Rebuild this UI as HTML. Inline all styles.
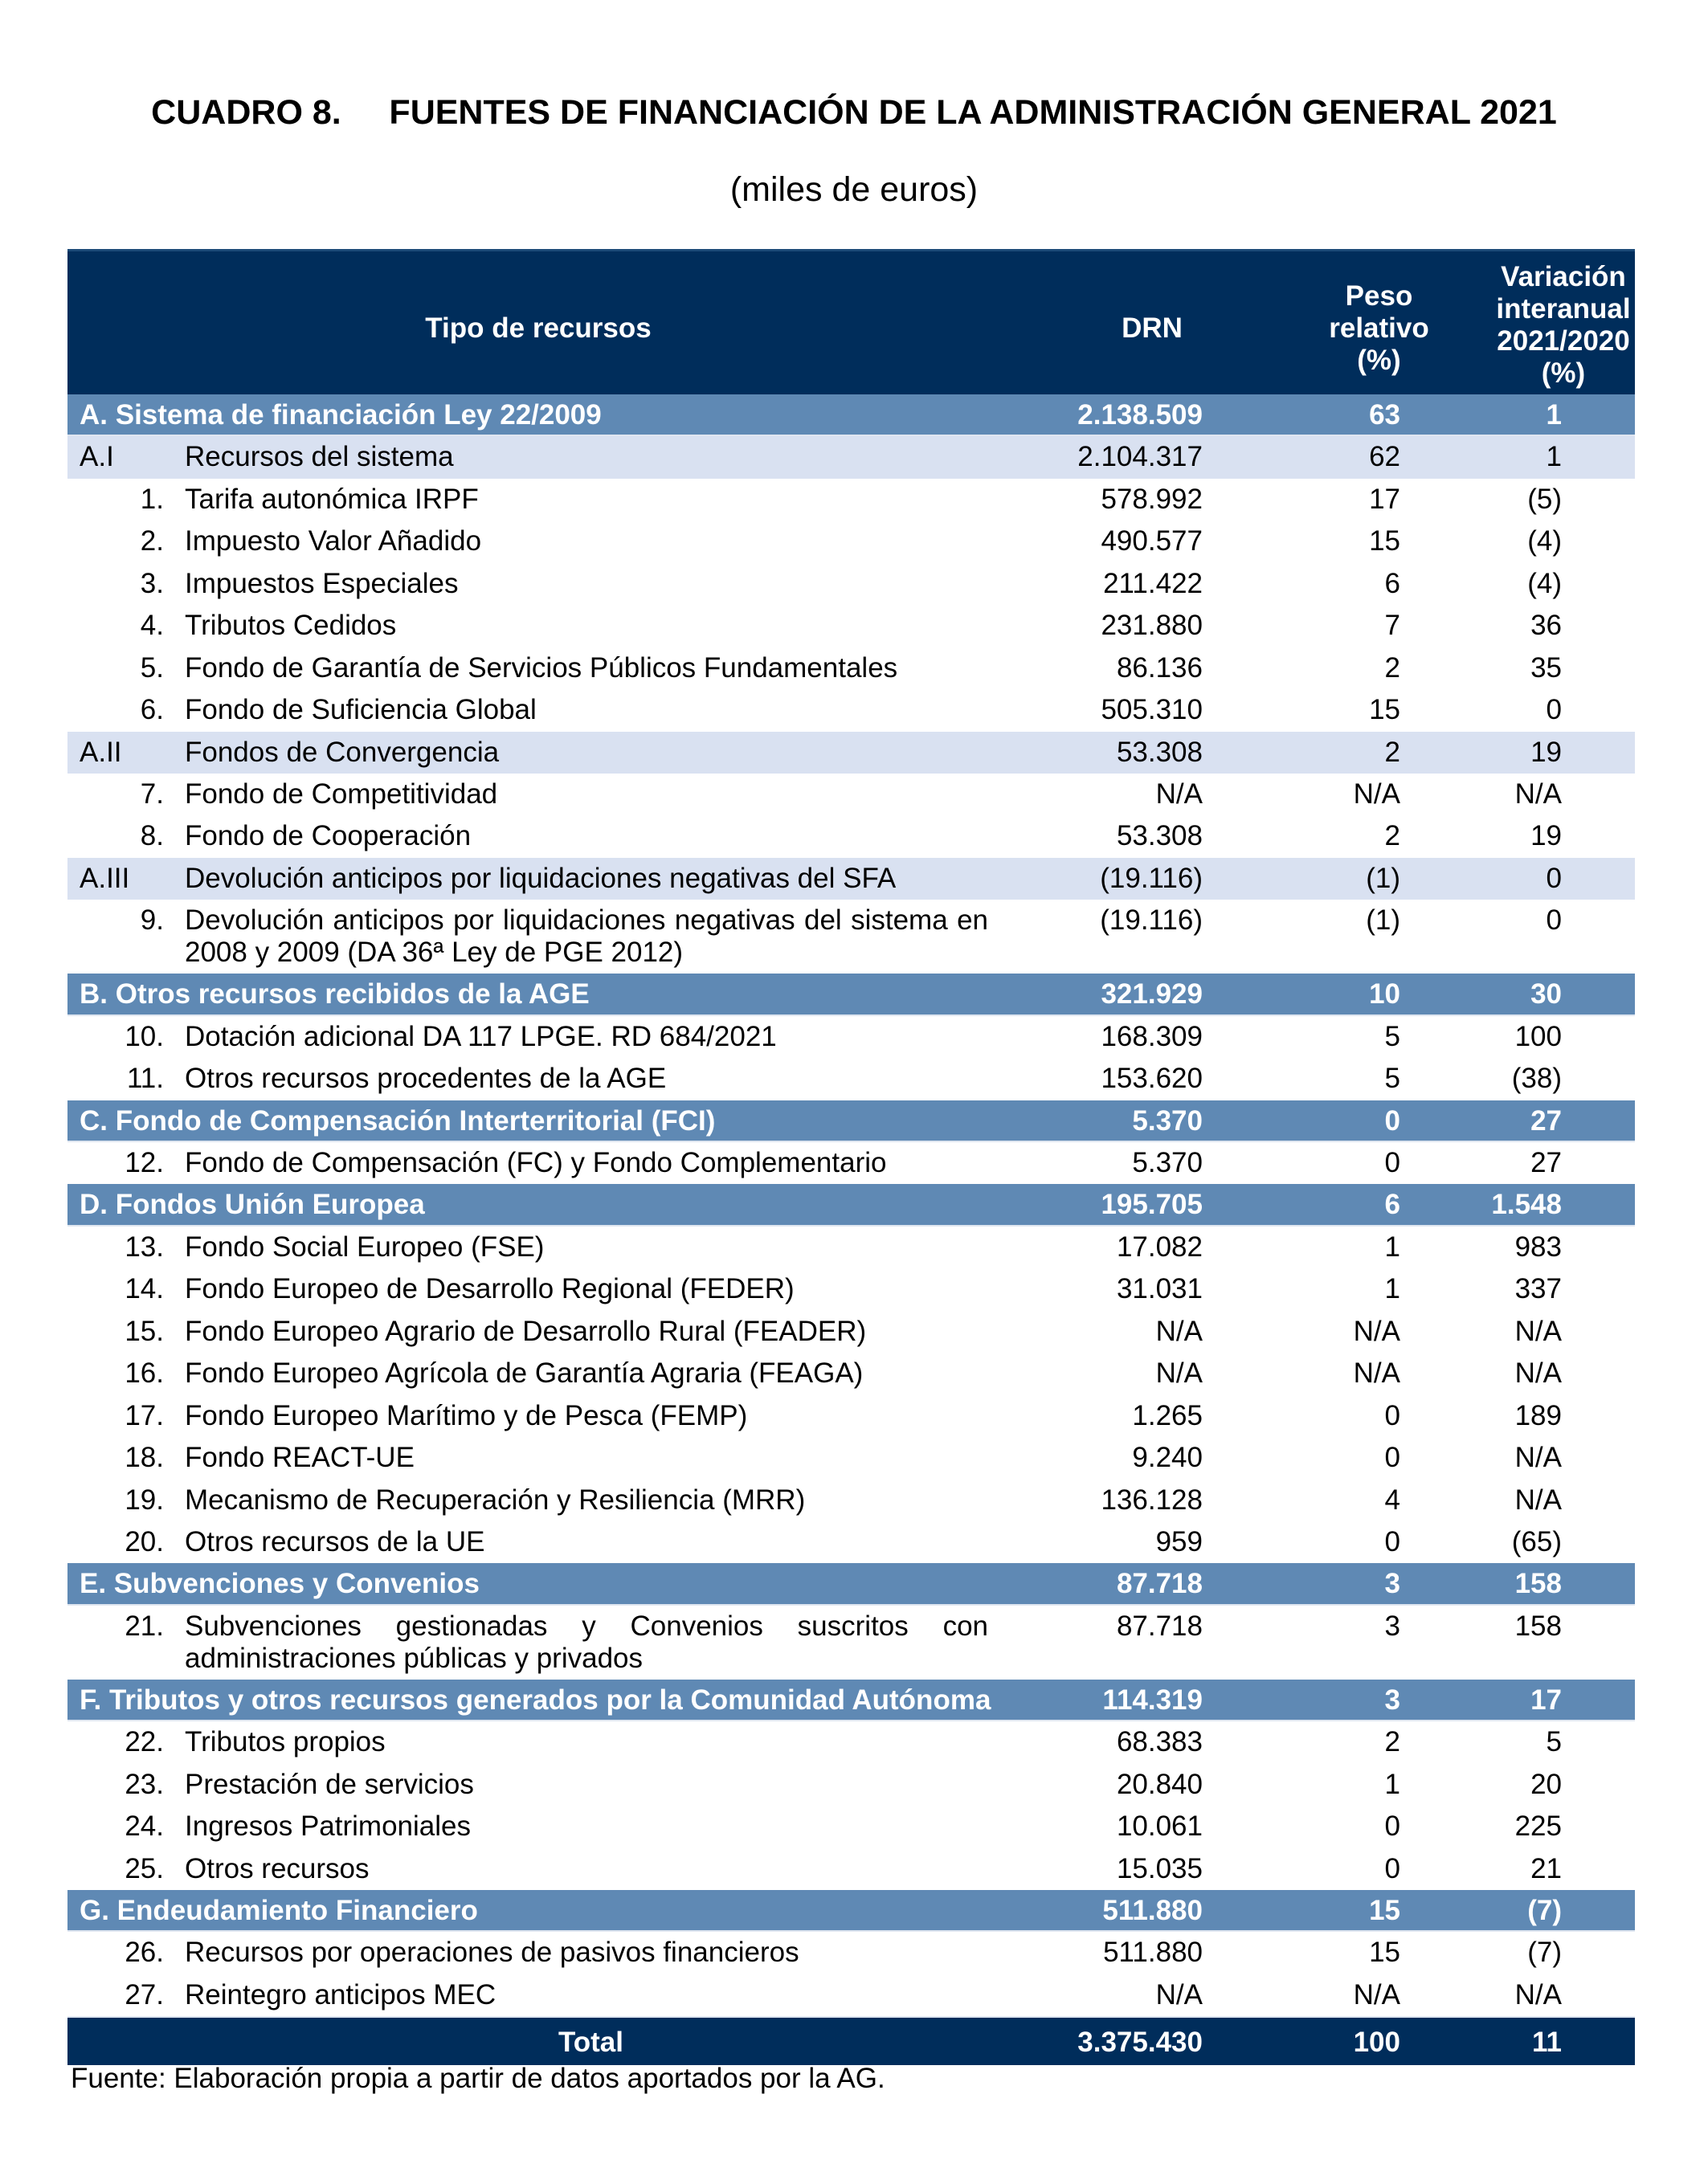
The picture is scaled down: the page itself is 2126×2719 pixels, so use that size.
<!DOCTYPE html>
<html><head><meta charset="utf-8">
<style>
*{margin:0;padding:0;box-sizing:border-box}
body{width:2126px;height:2719px;background:#fff;font-family:"Liberation Sans",Arial,sans-serif;color:#000;position:relative;overflow:hidden}
#title{position:absolute;top:116px;left:0;width:2126px;text-align:center;font-weight:bold;font-size:43px;white-space:pre}
#sub{position:absolute;top:212px;left:0;width:2126px;text-align:center;font-size:43px}
#tbl{position:absolute;top:310px;left:84px;width:1951px}
.hdr{height:181px;background:#002d5b;color:#fff;font-weight:bold;font-size:35px;position:relative;border-top:3px solid #1c4a78}
.hdr div{position:absolute;text-align:center;line-height:40px}
.row{height:52.45px;position:relative;font-size:35px;line-height:52px}
.row.dbl{height:92px;line-height:40px}
.row.dbl .lbl{top:6px;text-align:justify;text-align-last:left}
.row.dbl .c{top:6px}
.row div{position:absolute;top:0;white-space:nowrap}
.sec{background:#5f89b4;color:#fff;font-weight:bold;border-bottom:2px solid #dfe6f0}
.sub{background:#d9e1f1}
.num{left:0;width:120px;text-align:right}
.lbl{left:146px}
.row.dbl .lbl{width:1000px;white-space:normal}
.slbl{left:15px}
.drn{left:1172px;width:241px;text-align:right}
.peso{left:1479px;width:180px;text-align:right}
.var{left:1772px;width:88px;text-align:right}
.tot{height:61px;background:#002d5b;color:#fff;font-weight:bold;font-size:35px;line-height:61px;position:relative;border-top:2px solid #dfe6f0}
.tot div{position:absolute;top:0}
#foot{position:absolute;top:2566px;left:88px;font-size:35px;line-height:44px}
</style></head>
<body>
<div id="title">CUADRO 8.     FUENTES DE FINANCIACIÓN DE LA ADMINISTRACIÓN GENERAL 2021</div>
<div id="sub">(miles de euros)</div>
<div id="tbl">
<div class="hdr">
 <div style="left:0;width:1172px;top:76px">Tipo de recursos</div>
 <div style="left:1260px;width:180px;top:76px">DRN</div>
 <div style="left:1540px;width:185px;top:36px">Peso<br>relativo<br>(%)</div>
 <div style="left:1772px;width:180px;top:12px">Variación<br>interanual<br>2021/2020<br>(%)</div>
</div>
<div class="row sec"><div class="slbl">A. Sistema de financiación Ley 22/2009</div><div class="c drn">2.138.509</div><div class="c peso">63</div><div class="c var">1</div></div>
<div class="row sub"><div class="slbl">A.I</div><div class="lbl">Recursos del sistema</div><div class="c drn">2.104.317</div><div class="c peso">62</div><div class="c var">1</div></div>
<div class="row"><div class="num">1.</div><div class="lbl">Tarifa autonómica IRPF</div><div class="c drn">578.992</div><div class="c peso">17</div><div class="c var">(5)</div></div>
<div class="row"><div class="num">2.</div><div class="lbl">Impuesto Valor Añadido</div><div class="c drn">490.577</div><div class="c peso">15</div><div class="c var">(4)</div></div>
<div class="row"><div class="num">3.</div><div class="lbl">Impuestos Especiales</div><div class="c drn">211.422</div><div class="c peso">6</div><div class="c var">(4)</div></div>
<div class="row"><div class="num">4.</div><div class="lbl">Tributos Cedidos</div><div class="c drn">231.880</div><div class="c peso">7</div><div class="c var">36</div></div>
<div class="row"><div class="num">5.</div><div class="lbl">Fondo de Garantía de Servicios Públicos Fundamentales</div><div class="c drn">86.136</div><div class="c peso">2</div><div class="c var">35</div></div>
<div class="row"><div class="num">6.</div><div class="lbl">Fondo de Suficiencia Global</div><div class="c drn">505.310</div><div class="c peso">15</div><div class="c var">0</div></div>
<div class="row sub"><div class="slbl">A.II</div><div class="lbl">Fondos de Convergencia</div><div class="c drn">53.308</div><div class="c peso">2</div><div class="c var">19</div></div>
<div class="row"><div class="num">7.</div><div class="lbl">Fondo de Competitividad</div><div class="c drn">N/A</div><div class="c peso">N/A</div><div class="c var">N/A</div></div>
<div class="row"><div class="num">8.</div><div class="lbl">Fondo de Cooperación</div><div class="c drn">53.308</div><div class="c peso">2</div><div class="c var">19</div></div>
<div class="row sub"><div class="slbl">A.III</div><div class="lbl">Devolución anticipos por liquidaciones negativas del SFA</div><div class="c drn">(19.116)</div><div class="c peso">(1)</div><div class="c var">0</div></div>
<div class="row dbl"><div class="num" style="top:6px">9.</div><div class="lbl">Devolución anticipos por liquidaciones negativas del sistema en 2008 y 2009 (DA 36ª Ley de PGE 2012)</div><div class="c drn">(19.116)</div><div class="c peso">(1)</div><div class="c var">0</div></div>
<div class="row sec"><div class="slbl">B. Otros recursos recibidos de la AGE</div><div class="c drn">321.929</div><div class="c peso">10</div><div class="c var">30</div></div>
<div class="row"><div class="num">10.</div><div class="lbl">Dotación adicional DA 117 LPGE. RD 684/2021</div><div class="c drn">168.309</div><div class="c peso">5</div><div class="c var">100</div></div>
<div class="row"><div class="num">11.</div><div class="lbl">Otros recursos procedentes de la AGE</div><div class="c drn">153.620</div><div class="c peso">5</div><div class="c var">(38)</div></div>
<div class="row sec"><div class="slbl">C. Fondo de Compensación Interterritorial (FCI)</div><div class="c drn">5.370</div><div class="c peso">0</div><div class="c var">27</div></div>
<div class="row"><div class="num">12.</div><div class="lbl">Fondo de Compensación (FC) y Fondo Complementario</div><div class="c drn">5.370</div><div class="c peso">0</div><div class="c var">27</div></div>
<div class="row sec"><div class="slbl">D. Fondos Unión Europea</div><div class="c drn">195.705</div><div class="c peso">6</div><div class="c var">1.548</div></div>
<div class="row"><div class="num">13.</div><div class="lbl">Fondo Social Europeo (FSE)</div><div class="c drn">17.082</div><div class="c peso">1</div><div class="c var">983</div></div>
<div class="row"><div class="num">14.</div><div class="lbl">Fondo Europeo de Desarrollo Regional (FEDER)</div><div class="c drn">31.031</div><div class="c peso">1</div><div class="c var">337</div></div>
<div class="row"><div class="num">15.</div><div class="lbl">Fondo Europeo Agrario de Desarrollo Rural (FEADER)</div><div class="c drn">N/A</div><div class="c peso">N/A</div><div class="c var">N/A</div></div>
<div class="row"><div class="num">16.</div><div class="lbl">Fondo Europeo Agrícola de Garantía Agraria (FEAGA)</div><div class="c drn">N/A</div><div class="c peso">N/A</div><div class="c var">N/A</div></div>
<div class="row"><div class="num">17.</div><div class="lbl">Fondo Europeo Marítimo y de Pesca (FEMP)</div><div class="c drn">1.265</div><div class="c peso">0</div><div class="c var">189</div></div>
<div class="row"><div class="num">18.</div><div class="lbl">Fondo REACT-UE</div><div class="c drn">9.240</div><div class="c peso">0</div><div class="c var">N/A</div></div>
<div class="row"><div class="num">19.</div><div class="lbl">Mecanismo de Recuperación y Resiliencia (MRR)</div><div class="c drn">136.128</div><div class="c peso">4</div><div class="c var">N/A</div></div>
<div class="row"><div class="num">20.</div><div class="lbl">Otros recursos de la UE</div><div class="c drn">959</div><div class="c peso">0</div><div class="c var">(65)</div></div>
<div class="row sec"><div class="slbl">E. Subvenciones y Convenios</div><div class="c drn">87.718</div><div class="c peso">3</div><div class="c var">158</div></div>
<div class="row dbl"><div class="num" style="top:6px">21.</div><div class="lbl">Subvenciones gestionadas y Convenios suscritos con administraciones públicas y privados</div><div class="c drn">87.718</div><div class="c peso">3</div><div class="c var">158</div></div>
<div class="row sec"><div class="slbl">F. Tributos y otros recursos generados por la Comunidad Autónoma</div><div class="c drn">114.319</div><div class="c peso">3</div><div class="c var">17</div></div>
<div class="row"><div class="num">22.</div><div class="lbl">Tributos propios</div><div class="c drn">68.383</div><div class="c peso">2</div><div class="c var">5</div></div>
<div class="row"><div class="num">23.</div><div class="lbl">Prestación de servicios</div><div class="c drn">20.840</div><div class="c peso">1</div><div class="c var">20</div></div>
<div class="row"><div class="num">24.</div><div class="lbl">Ingresos Patrimoniales</div><div class="c drn">10.061</div><div class="c peso">0</div><div class="c var">225</div></div>
<div class="row"><div class="num">25.</div><div class="lbl">Otros recursos</div><div class="c drn">15.035</div><div class="c peso">0</div><div class="c var">21</div></div>
<div class="row sec"><div class="slbl">G. Endeudamiento Financiero</div><div class="c drn">511.880</div><div class="c peso">15</div><div class="c var">(7)</div></div>
<div class="row"><div class="num">26.</div><div class="lbl">Recursos por operaciones de pasivos financieros</div><div class="c drn">511.880</div><div class="c peso">15</div><div class="c var">(7)</div></div>
<div class="row"><div class="num">27.</div><div class="lbl">Reintegro anticipos MEC</div><div class="c drn">N/A</div><div class="c peso">N/A</div><div class="c var">N/A</div></div>
<div class="tot">
 <div style="left:131px;width:1041px;text-align:center">Total</div>
 <div class="drn">3.375.430</div><div class="peso">100</div><div class="var">11</div>
</div>
</div>
<div id="foot">Fuente: Elaboración propia a partir de datos aportados por la AG.</div>
</body></html>
